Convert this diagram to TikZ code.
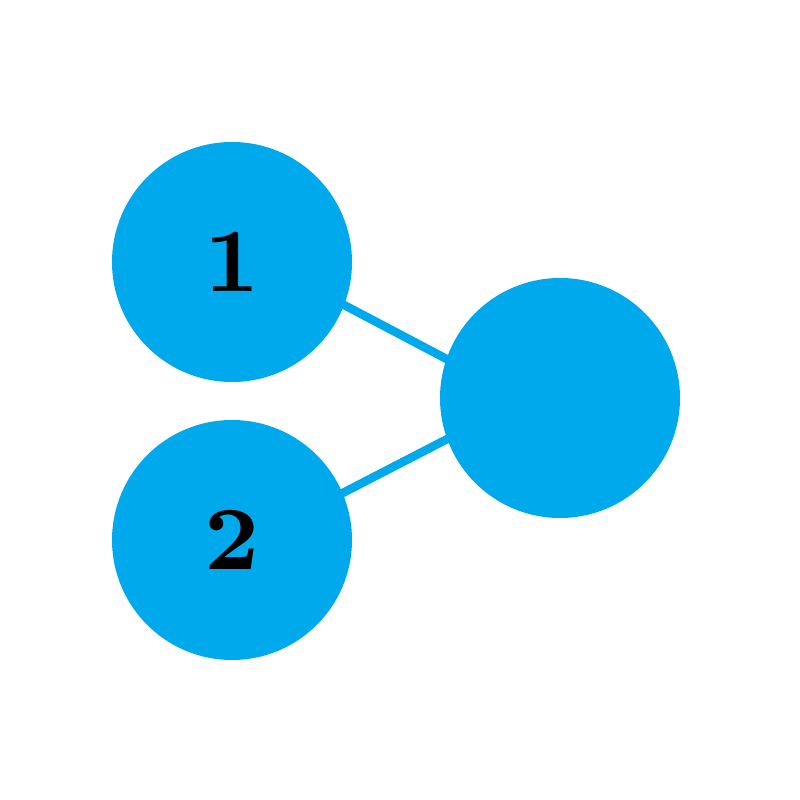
\documentclass[tikz,border=0pt]{standalone}
\usepackage{graphicx}
\usetikzlibrary{calc,backgrounds}
\definecolor{nodeblue}{RGB}{0,169,236}
\newcommand{\bignum}[1]{\scalebox{11.25}{\fontsize{8}{9}\selectfont\bfseries #1}}
\begin{document}
\begin{tikzpicture}[x=1pt,y=1pt,
  vert/.style={circle,fill=nodeblue,draw=none,minimum size=240pt,inner sep=0pt},
  edge/.style={draw=nodeblue,line width=8.5pt}]
\useasboundingbox (0,0) rectangle (800,800);
\node[vert] (a) at (232,538) {\bignum{1}};
\node[vert] (b) at (232,260) {\bignum{2}};
\node[vert] (c) at (560,402) {};
\begin{scope}[on background layer]
\draw[edge] ($(a.-21.7)!-15pt!(c.161.4)$) -- ($(c.161.4)!-15pt!(a.-21.7)$);
\draw[edge] ($(b.23.8)!-15pt!(c.-160.5)$) -- ($(c.-160.5)!-15pt!(b.23.8)$);
\end{scope}
\end{tikzpicture}
\end{document}
